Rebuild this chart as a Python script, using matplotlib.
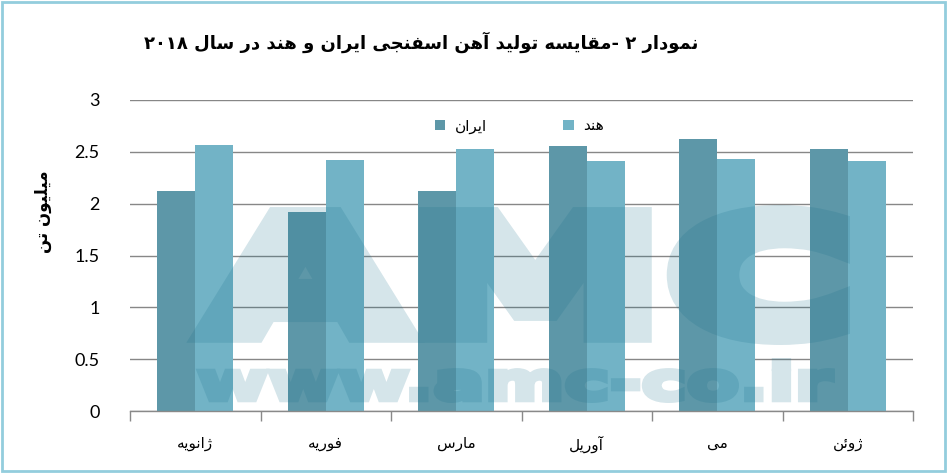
import re
import matplotlib
matplotlib.use('Agg')
import matplotlib.pyplot as plt
import numpy as np
from matplotlib.patches import Rectangle, PathPatch
from matplotlib.textpath import TextPath
from matplotlib.font_manager import FontProperties
from matplotlib.transforms import Affine2D

# داده ها
months = ['ژانویه', 'فوریه', 'مارس', 'آوریل', 'می', 'ژوئن']
iran = [2.12, 1.92, 2.12, 2.56, 2.62, 2.53]
india = [2.57, 2.42, 2.53, 2.41, 2.43, 2.41]
series_names = ['ایران', 'هند']
title = 'نمودار ۲ -مقایسه تولید آهن اسفنجی ایران و هند در سال ۲۰۱۸'
ylabel = 'میلیون تن'
yticks = [0, 0.5, 1, 1.5, 2, 2.5, 3]

# شکل حروف: (تنها، پایانی، آغازی، میانی)
FORMS = {
    'ا': ('\uFE8D', '\uFE8E', None, None),
    'آ': ('\uFE81', '\uFE82', None, None),
    'ئ': ('\uFE89', '\uFE8A', '\uFE8B', '\uFE8C'),
    'ت': ('\uFE95', '\uFE96', '\uFE97', '\uFE98'),
    'ج': ('\uFE9D', '\uFE9E', '\uFE9F', '\uFEA0'),
    'د': ('\uFEA9', '\uFEAA', None, None),
    'ر': ('\uFEAD', '\uFEAE', None, None),
    'س': ('\uFEB1', '\uFEB2', '\uFEB3', '\uFEB4'),
    'ف': ('\uFED1', '\uFED2', '\uFED3', '\uFED4'),
    'ق': ('\uFED5', '\uFED6', '\uFED7', '\uFED8'),
    'ل': ('\uFEDD', '\uFEDE', '\uFEDF', '\uFEE0'),
    'م': ('\uFEE1', '\uFEE2', '\uFEE3', '\uFEE4'),
    'ن': ('\uFEE5', '\uFEE6', '\uFEE7', '\uFEE8'),
    'ه': ('\uFEE9', '\uFEEA', '\uFEEB', '\uFEEC'),
    'و': ('\uFEED', '\uFEEE', None, None),
    'ژ': ('\uFB8A', '\uFB8B', None, None),
    'ی': ('\uFBFC', '\uFBFD', '\uFBFE', '\uFBFF'),
}


def fa(text):
    out = []
    for i, ch in enumerate(text):
        if ch not in FORMS:
            out.append(ch)
            continue
        iso, fin, ini, med = FORMS[ch]
        prev = text[i - 1] if i > 0 else ''
        nxt = text[i + 1] if i < len(text) - 1 else ''
        jp = prev in FORMS and FORMS[prev][2] is not None
        jn = nxt in FORMS and ini is not None
        if jp and jn:
            out.append(med)
        elif jp:
            out.append(fin)
        elif jn:
            out.append(ini)
        else:
            out.append(iso)
    runs = re.findall(r'[0-9\u06F0-\u06F9]+|.', ''.join(out))
    return ''.join(reversed(runs))


c_iran = '#5d97a8'
c_india = '#72b3c6'

fig = plt.figure(figsize=(9.47, 4.74), dpi=100)
ax = fig.add_axes([130 / 947, 1 - 411 / 474, 783 / 947, 311 / 474])

x = np.arange(len(months))
w = 0.29
ax.bar(x - w / 2, iran, w, color=c_iran, zorder=2, label=fa(series_names[0]))
ax.bar(x + w / 2, india, w, color=c_india, zorder=2, label=fa(series_names[1]))

ax.set_xlim(-0.5, len(months) - 0.5)
ax.set_ylim(0, 3)
ax.set_yticks(yticks)
ax.set_yticklabels([f'{v:g}' for v in yticks], fontsize=13, family='Lato')
ax.tick_params(axis='y', length=0, pad=22)
ax.grid(axis='y', color='#878787', lw=1.0, zorder=1)

ax.set_xticks(x)
ax.set_xticklabels([fa(m) for m in months], fontsize=11, family='DejaVu Sans')
ax.tick_params(axis='x', length=0, pad=18)
ax.set_xticks(np.arange(len(months) + 1) - 0.5, minor=True)
ax.tick_params(axis='x', which='minor', length=7, color='#898989', width=1)

for s in ['top', 'right', 'left']:
    ax.spines[s].set_visible(False)
ax.spines['bottom'].set_color('#898989')
ax.spines['bottom'].set_linewidth(1.0)

ax.legend(loc='center', bbox_to_anchor=(0.497, 0.916), ncol=2, frameon=False,
          fontsize=11, handlelength=0.7, handleheight=0.7, handletextpad=0.6,
          columnspacing=5.0)

fig.text(421 / 947, 1 - 42 / 474, fa(title), ha='center', va='center',
         fontsize=13, fontweight='bold', family='DejaVu Sans')
fig.text(43 / 947, 1 - 212 / 474, fa(ylabel), ha='center', va='center',
         rotation=90, fontsize=12, fontweight='bold', family='DejaVu Sans')


# واترمارک
def fade(a):
    def f(im, dpi):
        im = im.copy()
        im[..., 3] *= a
        return im, 0, 0
    return f


def watermark(s, x0, y0, x1, y1, stroke):
    e = stroke / 2
    tp = TextPath((0, 0), s, size=1, prop=FontProperties(family='DejaVu Sans', weight='bold'))
    ext = tp.get_extents()
    tr = (Affine2D().translate(-ext.x0, -ext.y0)
          .scale((x1 - x0 - 2 * e) / ext.width / 947, (y1 - y0 - 2 * e) / ext.height / 474)
          .translate((x0 + e) / 947, 1 - (y1 - e) / 474) + fig.transFigure)
    p = PathPatch(tp, transform=tr, facecolor='#146e8a', edgecolor='#146e8a',
                  lw=stroke * 0.72, joinstyle='miter', zorder=5)
    p.set_agg_filter(fade(0.18))
    fig.add_artist(p)


watermark('AMC', 195, 205, 850, 345, 22)
watermark('www.amc-co.ir', 197, 358, 835, 403, 6)

fig.add_artist(Rectangle((2 / 947, 3 / 474), 943 / 947, 469 / 474, transform=fig.transFigure,
                         fill=False, edgecolor='#93cddd', lw=2, zorder=6))

fig.savefig('out.png', dpi=100)
